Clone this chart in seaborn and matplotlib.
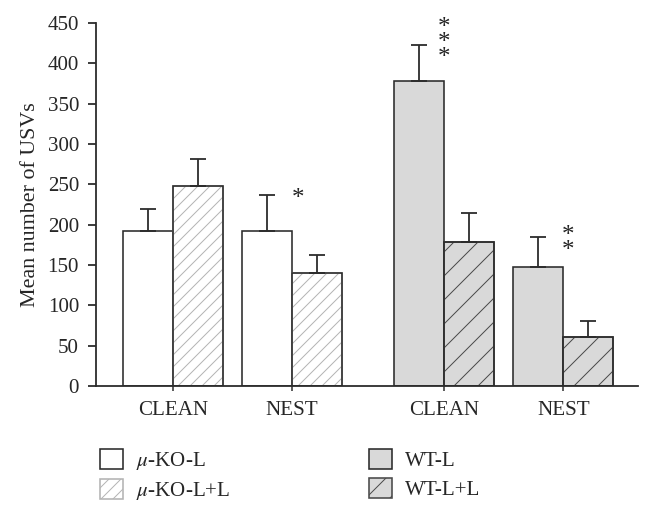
import matplotlib
matplotlib.use("Agg")
import matplotlib.pyplot as plt
import matplotlib.patches as mpatches
import numpy as np
import pandas as pd
import seaborn as sns

# values (mean +/- SEM)
conditions = ["CLEAN", "NEST"]
treatments = ["L", "L+L"]
ko_positions = [0.0, 1.0]
wt_positions = [2.28, 3.28]
ko_l_mean = [192, 192]
ko_ll_mean = [248, 140]
wt_l_mean = [378, 148]
wt_ll_mean = [179, 61]
ko_l_sem = [28, 45]
ko_ll_sem = [33, 22]
wt_l_sem = [45, 37]
wt_ll_sem = [35, 19]
legend_labels = [r"$\mu$-KO-L", r"$\mu$-KO-L+L", "WT-L", "WT-L+L"]
# significance marks: x, y of the top star, text
stars = [(1.05, 246, "*"), (2.28, 457, "*\n*\n*"), (3.32, 199, "*\n*")]

sns.set_style("ticks")
plt.rcParams["font.family"] = ["Liberation Serif", "DejaVu Serif"]
plt.rcParams["mathtext.fontset"] = "stix"
plt.rcParams["hatch.linewidth"] = 1.0

FS = 21
EDGE = "#2b2b2b"


def make_frame(positions, l_mean, ll_mean):
    return pd.DataFrame({
        "pos": positions * 2,
        "treatment": [treatments[0]] * 2 + [treatments[1]] * 2,
        "value": l_mean + ll_mean,
    })


ko_df = make_frame(ko_positions, ko_l_mean, ko_ll_mean)
wt_df = make_frame(wt_positions, wt_l_mean, wt_ll_mean)

fig = plt.figure(figsize=(653 / 72, 517 / 72), dpi=72)
ax = fig.add_axes([96 / 653, 1 - 386 / 517, (638 - 96) / 653, (386 - 23) / 517])

sns.barplot(data=ko_df, x="pos", y="value", hue="treatment", native_scale=True,
            palette=["white", "white"], width=0.84, errorbar=None, ax=ax,
            linewidth=1.6, edgecolor=EDGE, legend=False)
sns.barplot(data=wt_df, x="pos", y="value", hue="treatment", native_scale=True,
            palette=["#d9d9d9", "#d9d9d9"], width=0.84, errorbar=None, ax=ax,
            linewidth=1.6, edgecolor=EDGE, legend=False)
bar_sets = list(ax.containers)

sems = [ko_l_sem, ko_ll_sem, wt_l_sem, wt_ll_sem]
hatch_styles = [(None, None), ("//", "#b4b4b4"), (None, None), ("/", "#4a4a4a")]
for cont, sem, (hatch, hcol) in zip(bar_sets, sems, hatch_styles):
    xs, ys = [], []
    for p in cont.patches:
        if hatch:
            p.set_hatch(hatch)
            p.set_edgecolor(hcol)
            ax.add_patch(mpatches.Rectangle((p.get_x(), p.get_y()), p.get_width(), p.get_height(),
                                            fill=False, edgecolor=EDGE, linewidth=1.6, zorder=p.get_zorder() + 0.1))
        xs.append(p.get_x() + p.get_width() / 2)
        ys.append(p.get_height())
    ax.errorbar(xs, ys, yerr=[np.zeros(len(sem)), sem], fmt="none", ecolor=EDGE,
                elinewidth=1.8, capsize=8, capthick=1.8, zorder=3)

handles = [c.patches[0] for c in bar_sets]

for x, y, s in stars:
    ax.text(x, y, s, ha="center", va="top", fontsize=25, color="#222",
            linespacing=0.58, clip_on=False)

ax.set_xlim(-0.647, 3.908)
ax.set_ylim(0, 450)
ax.set_yticks(np.arange(0, 451, 50))
ax.set_xticks(ko_positions + wt_positions)
ax.set_xticklabels(conditions * 2)
ax.set_xlabel("")
ax.set_ylabel("Mean number of USVs", fontsize=22, labelpad=8)
ax.tick_params(axis="y", length=8, width=1.8, pad=9, labelsize=FS, color=EDGE)
ax.tick_params(axis="x", length=5, width=1.5, pad=10, labelsize=FS, color=EDGE)
for side in ["left", "bottom"]:
    ax.spines[side].set_linewidth(1.8)
    ax.spines[side].set_color(EDGE)
sns.despine(ax=ax)

fig.legend(handles, legend_labels, loc="upper left", bbox_to_anchor=(100 / 653, 1 - 449 / 517),
           ncol=2, frameon=False, fontsize=FS, borderpad=0, borderaxespad=0,
           handlelength=1.1, handleheight=1.1, handletextpad=0.62,
           labelspacing=0.33, columnspacing=6.6)

fig.savefig("out.png", dpi=72)
